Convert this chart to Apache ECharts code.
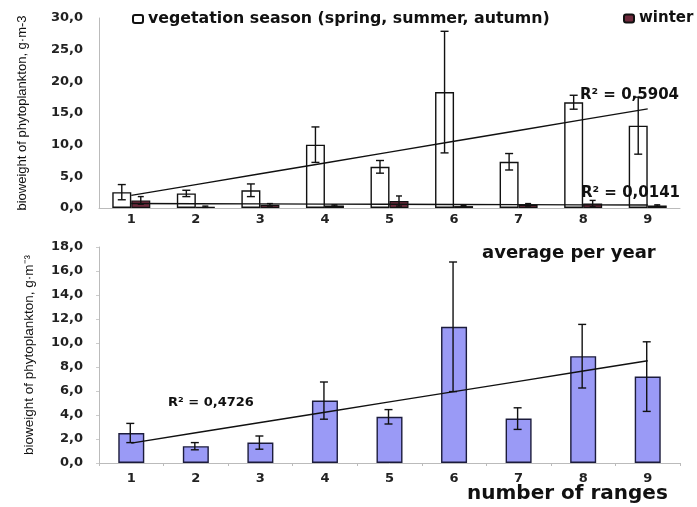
<!DOCTYPE html>
<html><head><meta charset="utf-8">
<script src="https://cdn.jsdelivr.net/npm/echarts@6/dist/echarts.min.js"></script>
<style>html,body{margin:0;padding:0;background:#fff}#c{width:697px;height:507px}</style>
</head><body><div id="c"></div>
<script>
const categories = ['1','2','3','4','5','6','7','8','9'];
const vegetation = [2.5, 2.3, 2.8, 10.0, 6.5, 18.3, 7.3, 16.7, 13.0];
const vegetationErr = [1.2, 0.5, 1.0, 2.8, 1.0, 9.6, 1.3, 1.1, 4.5];
const winter = [1.2, 0.2, 0.5, 0.4, 1.1, 0.3, 0.5, 0.7, 0.4];
const winterErr = [0.6, 0.1, 0.2, 0.1, 0.8, 0.1, 0.2, 0.5, 0.1];
const annual = [2.5, 1.4, 1.7, 5.2, 3.85, 11.35, 3.7, 8.9, 7.2];
const annualErr = [0.8, 0.3, 0.55, 1.55, 0.6, 5.4, 0.9, 2.65, 2.9];
const r2Labels = ['R² = 0,5904', 'R² = 0,0141', 'R² = 0,4726'];
const seriesNames = ['vegetation season (spring, summer, autumn)', 'winter', 'average per year'];
const xTitle = 'number of ranges';
const yTitleTop = 'bioweight of phytoplankton, g·m-3';
const yTitleBottom = 'bioweight of phytoplankton, g·m⁻³';

function trend(vals){
  const n = vals.length;
  const xs = vals.map((v,i)=>i+1);
  const mx = xs.reduce((a,b)=>a+b,0)/n, my = vals.reduce((a,b)=>a+b,0)/n;
  let sxy=0, sxx=0;
  for(let i=0;i<n;i++){sxy+=(xs[i]-mx)*(vals[i]-my);sxx+=(xs[i]-mx)**2;}
  const b = sxy/sxx, a = my - b*mx;
  return xs.map(x=>a+b*x);
}
const fmt = v => v.toFixed(1).replace('.', ',');
const boldFont = "'DejaVu Sans', sans-serif";

function errSeries(vals, errs, xi, yi, offsetFrac, capW){
  return {
    type:'custom', xAxisIndex:xi, yAxisIndex:yi, z:5, silent:true,
    data: vals.map((v,i)=>[i, v, errs[i]]),
    renderItem(params, api){
      const idx = api.value(0), v = api.value(1), e = api.value(2);
      const band = api.size([1,0])[0];
      const top = api.coord([idx, v+e]); const bot = api.coord([idx, v-e]);
      const x = top[0] + band*offsetFrac;
      const st = {stroke:'#111', lineWidth:1.4};
      return {type:'group', children:[
        {type:'line', shape:{x1:x,y1:top[1],x2:x,y2:bot[1]}, style:st},
        {type:'line', shape:{x1:x-capW,y1:top[1],x2:x+capW,y2:top[1]}, style:st},
        {type:'line', shape:{x1:x-capW,y1:bot[1],x2:x+capW,y2:bot[1]}, style:st}
      ]};
    }
  };
}

const axisLabelStyle = {fontFamily:boldFont, fontWeight:'bold', fontSize:13, color:'#222'};
const nameFont = "'Liberation Sans Narrow', 'Liberation Sans', sans-serif";
const chart = echarts.init(document.getElementById('c'), null, {renderer:'canvas'});
chart.setOption({
  backgroundColor:'#fff',
  animation:false,
  legend:[
    {left:127, top:6, itemWidth:10, itemHeight:8, data:[seriesNames[0]],
     textStyle:{fontFamily:boldFont, fontWeight:'bold', fontSize:15.8, color:'#111'}},
    {left:618, top:6, itemWidth:10, itemHeight:8, data:[seriesNames[1]],
     textStyle:{fontFamily:boldFont, fontWeight:'bold', fontSize:15, color:'#111'}}
  ],
  grid:[
    {left:99, width:581, top:18, height:190},
    {left:99, width:581, top:247, height:216}
  ],
  xAxis:[
    {type:'category', gridIndex:0, data:categories,
     axisLine:{lineStyle:{color:'#bbb'}}, axisTick:{show:false},
     axisLabel:Object.assign({margin:5}, axisLabelStyle)},
    {type:'category', gridIndex:1, data:categories,
     axisLine:{lineStyle:{color:'#bbb'}}, axisTick:{show:true, length:3, lineStyle:{color:'#bbb'}},
     axisLabel:Object.assign({margin:9}, axisLabelStyle)}
  ],
  yAxis:[
    {type:'value', gridIndex:0, min:0, max:30, interval:5,
     name:yTitleTop, nameLocation:'middle', nameGap:70,
     nameTextStyle:{fontFamily:nameFont, fontSize:13, color:'#111'},
     axisLine:{show:true, lineStyle:{color:'#bbb'}}, axisTick:{show:false}, splitLine:{show:false},
     axisLabel:Object.assign({margin:16, formatter:fmt}, axisLabelStyle)},
    {type:'value', gridIndex:1, min:0, max:18, interval:2,
     name:yTitleBottom, nameLocation:'middle', nameGap:63,
     nameTextStyle:{fontFamily:nameFont, fontSize:13.5, color:'#111'},
     axisLine:{show:true, lineStyle:{color:'#bbb'}}, axisTick:{show:true, length:3, lineStyle:{color:'#ccc'}}, splitLine:{show:false},
     axisLabel:Object.assign({margin:16, formatter:fmt}, axisLabelStyle)}
  ],
  series:[
    {name:seriesNames[0], type:'bar', xAxisIndex:0, yAxisIndex:0, data:vegetation,
     barWidth:19, barGap:'0%', itemStyle:{color:'#fff', borderColor:'#111', borderWidth:1.4}},
    {name:seriesNames[1], type:'bar', xAxisIndex:0, yAxisIndex:0, data:winter,
     barWidth:19, barGap:'0%', itemStyle:{color:'#6e2a3c', borderColor:'#111', borderWidth:1.2}},
    errSeries(vegetation, vegetationErr, 0, 0, -19/2/64.56, 4),
    errSeries(winter, winterErr, 0, 0, 19/2/64.56, 3),
    {type:'line', xAxisIndex:0, yAxisIndex:0, data:trend(vegetation), symbol:'none', z:6, silent:true,
     lineStyle:{color:'#111', width:1.4}},
    {type:'line', xAxisIndex:0, yAxisIndex:0, data:trend(winter), symbol:'none', z:6, silent:true,
     lineStyle:{color:'#111', width:1.4}},
    {name:seriesNames[2], type:'bar', xAxisIndex:1, yAxisIndex:1, data:annual,
     barWidth:26, itemStyle:{color:'#9a9af6', borderColor:'#1c1c3c', borderWidth:1.4}},
    errSeries(annual, annualErr, 1, 1, -1/64.56, 4),
    {type:'line', xAxisIndex:1, yAxisIndex:1, data:trend(annual), symbol:'none', z:6, silent:true,
     lineStyle:{color:'#111', width:1.4}}
  ],
  graphic:[
    {type:'text', left:580, top:88, z:10, style:{text:r2Labels[0], font:"bold 15px 'DejaVu Sans'", fill:'#111'}},
    {type:'text', left:581, top:186, z:10, style:{text:r2Labels[1], font:"bold 15px 'DejaVu Sans'", fill:'#111'}},
    {type:'text', left:168, top:396, z:10, style:{text:r2Labels[2], font:"bold 13px 'DejaVu Sans'", fill:'#111'}},
    {type:'text', left:482, top:244, z:10, style:{text:seriesNames[2], font:"bold 18px 'DejaVu Sans'", fill:'#111'}},
    {type:'text', left:467, top:484, z:10, style:{text:xTitle, font:"bold 20px 'DejaVu Sans'", fill:'#111'}}
  ]
});
</script></body></html>
